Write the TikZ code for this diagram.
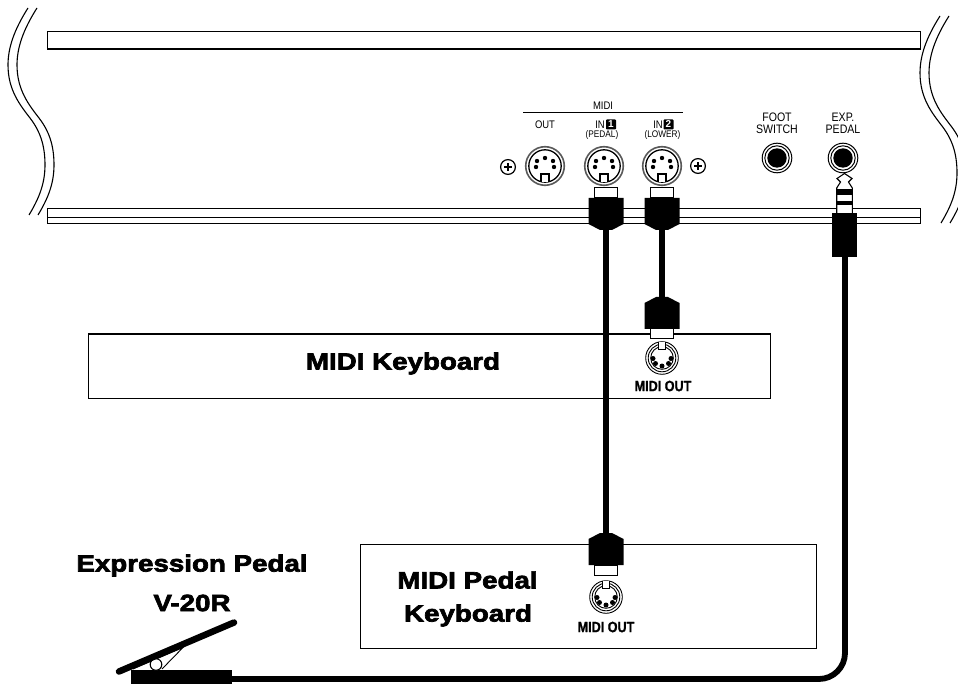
\documentclass[tikz,border=0pt]{standalone}
\usepackage{fontspec}
\setmainfont{Liberation Sans}
\newfontfamily\heavyfont[FakeStretch=1.18,FakeBold=3]{Liberation Sans Bold}
\newfontfamily\condfont[FakeStretch=0.86]{Liberation Sans}
\newfontfamily\condbold[FakeStretch=0.84,FakeBold=1]{Liberation Sans Bold}
\tikzset{
  panel/.style={draw=black,fill=white,line width=1.1pt,inner sep=0pt,anchor=north west},
  titletext/.style={font=\heavyfont\fontsize{23.5}{24}\selectfont,inner sep=0pt,text=black},
  smalllabel/.style={font=\condfont\fontsize{11}{11}\selectfont,inner sep=0pt},
  tinylabel/.style={font=\condfont\fontsize{9.6}{10}\selectfont,inner sep=0pt},
  outlabel/.style={font=\condbold\fontsize{15}{15}\selectfont,inner sep=0pt},
  numbox/.style={font=\fontsize{10}{10}\bfseries\selectfont,text=white,fill=black,inner sep=0pt,rounded corners=0.8pt,minimum width=10pt,minimum height=10pt},
  cable/.style={line width=5.8pt,draw=black},
  wave/.style={line width=1.1pt,draw=black},
  midiport/.pic={
    \draw[line width=1.6pt,draw=black!65,fill=white] (0,0) circle (19.3);
    \draw[line width=1.3pt,draw=black,fill=white] (0,0) circle (16.2);
    \foreach \dx/\dy in {0/-8,-8/-5,8/-5,-9/1,9/1}{\fill (\dx,\dy) circle (2.2);}
    \draw[line width=1.1pt,fill=white] (-4,15.8) -- (-4,8) -- (4,8) -- (4,15.8);
  },
  smallport/.pic={
    \draw[line width=.9pt,fill=white] (0,0) circle (16.3);
    \draw[line width=.9pt] (0,0) circle (13.8);
    \draw[line width=.9pt] (0,0) circle (11.3);
    \draw[line width=.9pt,fill=white] (-3.5,-16) -- (-3.5,-9) -- (3.5,-9) -- (3.5,-16);
    \foreach \dx/\dy in {0/8,-6.5/5.5,6.5/5.5,-9/0.5,9/0.5}{\fill (\dx,\dy) circle (2.5);}
  },
  jackport/.pic={
    \draw[line width=1pt,fill=white] (0,0) circle (14.8);
    \draw[line width=1pt] (0,0) circle (12.2);
    \fill (0,0) circle (9.7);
  },
  screw/.pic={
    \draw[line width=1.2pt,fill=white] (0,0) circle (7.4);
    \fill (-3.6,-.9) rectangle (3.6,.9);
    \fill (-.9,-3.6) rectangle (.9,3.6);
  },
  midiplug/.pic={
    \draw[line width=1pt,fill=white] (-11.8,0) rectangle (11.8,-10);
    \fill (-17.5,0) -- (17.5,0) -- (17.5,26) -- (6,32) -- (-6,32) -- (-17.5,26) -- cycle;
  },
}
\begin{document}
\begin{tikzpicture}[x=1pt,y=-1pt]
\useasboundingbox (0,0) rectangle (958,684);
\clip (0,0) rectangle (958,684);
% back panel bars
\node[panel,minimum width=873pt,minimum height=17.5pt] (topbar) at (47,31) {};
\node[panel,minimum width=873pt,minimum height=15pt] (lowbar) at (47,208) {};
\draw[line width=1.2pt] (lowbar.west |- 0,217.5) -- (lowbar.east |- 0,217.5);
% cut marks
\foreach \sx/\sy in {0/0,9/0,912/8,921/8}{
  \draw[wave,shift={(\sx,\sy)}] (28,8) .. controls (14,30) and (8,48) .. (8,65)
    .. controls (8,90) and (20,105) .. (30,118)
    .. controls (40,131) and (45,145) .. (45,165)
    .. controls (45,185) and (38,200) .. (29,215);
}
% MIDI header
\coordinate (midiL) at (523,112.5);
\coordinate (midiR) at (683,112.5);
\draw[line width=1.3pt] (midiL) -- (midiR);
\node[smalllabel] (midilab) at (603,106) {MIDI};
\node[smalllabel] (outlab) at (545,124.5) {OUT};
\node[smalllabel] (in1lab) at (600,124.5) {IN};
\node[numbox] (in1num) at (611,124.5) {1};
\node[tinylabel] (pedlab) at (602,135.5) {(PEDAL)};
\node[smalllabel] (in2lab) at (658,124.5) {IN};
\node[numbox] (in2num) at (668.5,124.5) {2};
\node[tinylabel] (lowlab) at (662.5,135.5) {(LOWER)};
\node[smalllabel,align=center,font=\condfont\fontsize{12.3}{11.8}\selectfont] (footlab) at (777,123.5) {FOOT\\SWITCH};
\node[smalllabel,align=center,font=\condfont\fontsize{12.3}{11.8}\selectfont] (explab) at (843,123.5) {EXP.\\PEDAL};
% ports
\path (508,167) pic {screw};
\path (698,166) pic {screw};
\path (545,166) pic {midiport};
\path (604,166) pic {midiport};
\path (662,166) pic {midiport};
\path (777,158) pic {jackport};
\path (843,158) pic {jackport};
% keyboards
\node[panel,minimum width=682pt,minimum height=64pt,line width=1.2pt] (kbd) at (88,333.5) {};
\node[panel,minimum width=456pt,minimum height=104pt,line width=1.2pt] (pedkbd) at (360,544) {};
\node[titletext] (kbdlab) at (403,363.5) {MIDI Keyboard};
\node[titletext,align=center] (pk1) at (467.5,580) {MIDI Pedal};
\node[titletext,align=center] (pk2) at (468,615.5) {Keyboard};
\node[titletext] (explab1) at (192,565.5) {Expression Pedal};
\node[titletext] (explab2) at (192,603) {V-20R};
\path (662,358) pic {smallport};
\path (606,597) pic {smallport};
\node[outlabel] (out1) at (663,386) {MIDI OUT};
\node[outlabel] (out2) at (606,627) {MIDI OUT};
% connection points
\coordinate (plugA) at (606,198);
\coordinate (plugB) at (662,198);
\coordinate (plugC) at (662,329);
\coordinate (plugD) at (606,565);
\coordinate (jackEnd) at (845,250);
\coordinate (pedalEnd) at (225,679);
% cables
\draw[cable] (plugA) -- (plugD);
\draw[cable] (plugB) -- (plugC);
\draw[cable,rounded corners=26pt] (jackEnd) -- (845,679) -- (pedalEnd);
% plugs
\path (plugA) pic {midiplug};
\path (plugB) pic {midiplug};
\path (plugC) pic[yscale=-1] {midiplug};
\path (plugD) pic[yscale=-1] {midiplug};
% jack plug
\draw[line width=1.1pt,fill=white] (844.5,173.5) -- (852,178.5) -- (848.5,182) -- (852.3,188) -- (852.3,214) -- (836.7,214) -- (836.7,188) -- (840.5,182) -- (837,178.5) -- cycle;
\fill (836.2,189) rectangle (852.8,195);
\fill (836.2,201.5) rectangle (852.8,205.5);
\node[fill=black,inner sep=0pt,minimum width=25pt,minimum height=44pt,anchor=north] (jackbody) at (844.5,213) {};
% pedal
\node[fill=black,inner sep=0pt,minimum width=101pt,minimum height=14pt,anchor=north west] (pedalbase) at (131,670) {};
\coordinate (plateA) at (119,671.5);
\coordinate (plateB) at (234,622.5);
\draw[line width=.9pt] (133,669) -- (183,647.5) -- (162,669);
\draw[line width=1.1pt,fill=white] (156,664.5) circle (5.8);
\draw[line width=6.5pt,line cap=round] (plateA) -- (plateB);
\end{tikzpicture}
\end{document}
